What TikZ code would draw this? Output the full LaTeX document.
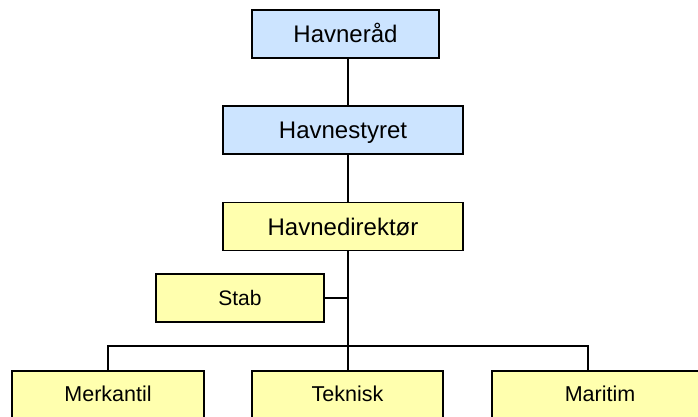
\documentclass[tikz,border=0pt]{standalone}
\usepackage{fontspec}
\setmainfont{Liberation Sans}
\definecolor{boxblue}{RGB}{204,228,255}
\definecolor{boxyellow}{RGB}{255,255,174}
\begin{document}
\begin{tikzpicture}[x=1pt,y=1pt,
  box/.style={draw=black, line width=1.6pt, inner sep=0pt, text depth=0pt},
  topbox/.style={box, fill=boxblue, minimum height=48pt, text height=17.2pt, font=\fontsize{24}{28}\selectfont},
  midbox/.style={box, fill=boxyellow, minimum height=48pt, text height=17.2pt, font=\fontsize{24}{28}\selectfont},
  stabbox/.style={box, fill=boxyellow, minimum height=48pt, text height=15pt, font=\fontsize{21}{25}\selectfont},
  bottombox/.style={draw=black, line width=1.6pt, fill=boxyellow, inner ysep=0pt, inner xsep=0pt,
    text height=31pt, text depth=30pt, anchor=north, font=\fontsize{21.5}{25}\selectfont},
  conn/.style={draw=black, line width=1.6pt}]
\useasboundingbox (0,0) rectangle (698,417);
\clip (0,0) rectangle (698,417);
\fill[white] (0,0) rectangle (698,417);
\node[topbox, minimum width=187pt] (hr) at (345.5,383) {Havnerå{}d};
\node[topbox, minimum width=240pt] (hs) at (343,287) {Havnestyret};
\node[midbox, minimum width=240pt] (hd) at (343,190.5) {Havnedirektør};
\node[stabbox, minimum width=168pt] (st) at (240,119) {Stab};
\node[bottombox, minimum width=192pt] (mk) at (108,47) {Merkantil};
\node[bottombox, minimum width=191pt] (tk) at (347.5,47) {Teknisk};
\node[bottombox, minimum width=216pt] (ma) at (600,47) {Maritim};
\coordinate (spine) at (348,0);
\coordinate (bar) at (348,71);
\coordinate (mbr) at (588,71);
\draw[conn] (hr.south -| spine) -- (hs.north -| spine);
\draw[conn] (hs.south -| spine) -- (hd.north -| spine);
\draw[conn] (hd.south -| spine) -- (bar) -- (tk.north -| spine);
\draw[conn] (st.east) -- (st.east -| spine);
\draw[conn] (mk.north) |- (mbr) -- (ma.north -| mbr);
\end{tikzpicture}
\end{document}
